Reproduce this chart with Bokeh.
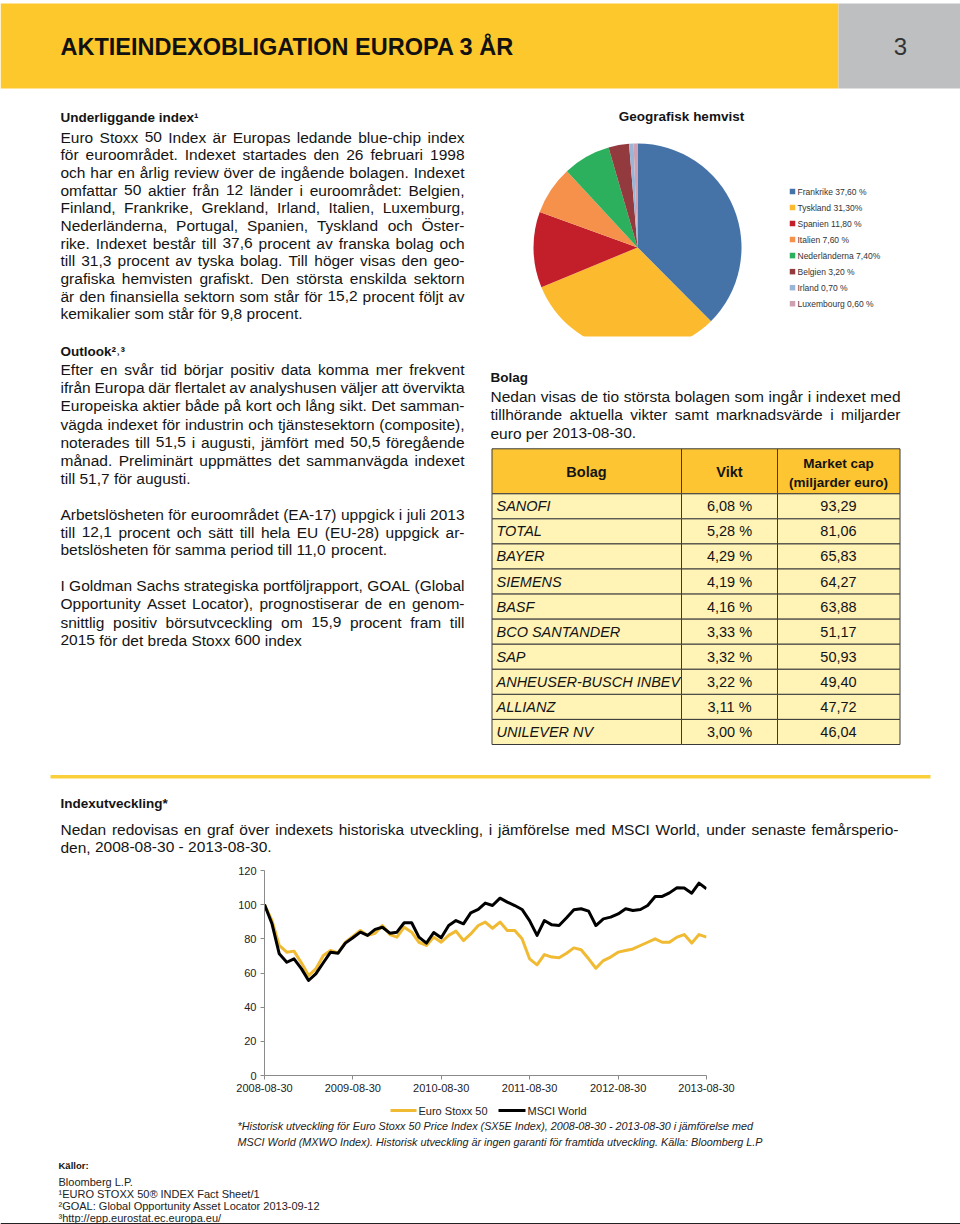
from bokeh.plotting import figure
from bokeh.models import Range1d, FixedTicker, DatetimeTickFormatter
from bokeh.layouts import column
from bokeh.core.properties import value
from bokeh.embed import file_html
from bokeh.resources import INLINE
import numpy as np
import pandas as pd

# ---------------- data ----------------
geo_names = ["Frankrike", "Tyskland", "Spanien", "Italien", "Nederländerna", "Belgien", "Irland", "Luxembourg"]
geo_pct = [37.6, 31.3, 11.8, 7.6, 7.4, 3.2, 0.7, 0.6]
geo_labels = ["Frankrike 37,60 %", "Tyskland 31,30%", "Spanien 11,80 %", "Italien 7,60 %",
              "Nederländerna 7,40%", "Belgien 3,20 %", "Irland 0,70 %", "Luxembourg 0,60 %"]
geo_colors = ["#4573A8", "#FCBB2E", "#C21F2B", "#F5914A", "#2DB05E", "#933A3E", "#9AB5D6", "#CFA0B2"]

companies = ["SANOFI", "TOTAL", "BAYER", "SIEMENS", "BASF", "BCO SANTANDER", "SAP",
             "ANHEUSER-BUSCH INBEV", "ALLIANZ", "UNILEVER NV"]
weights = [6.08, 5.28, 4.29, 4.19, 4.16, 3.33, 3.32, 3.22, 3.11, 3.00]
market_cap = [93.29, 81.06, 65.83, 64.27, 63.88, 51.17, 50.93, 49.40, 47.72, 46.04]

eurostoxx = [100, 90.7, 76.1, 72.2, 72.8, 65.8, 58.5, 62.4, 70.2, 73.2, 71.8, 78.0, 81.4,
             84.9, 82.0, 83.3, 87.8, 82.5, 81.0, 86.8, 83.9, 78.0, 76.1, 81.0, 78.0,
             82.0, 84.5, 79.0, 82.9, 87.8, 89.8, 86.2, 89.8, 84.9, 84.9, 80.0, 68.3,
             64.8, 70.8, 69.3, 68.9, 71.6, 74.7, 73.6, 68.3, 62.8, 67.3, 69.3, 72.2,
             73.2, 74.1, 76.1, 78.0, 80.0, 78.0, 78.0, 81.0, 82.5, 77.5, 82.5, 81.0]
msci_world = [100, 88.8, 71.2, 66.3, 68.3, 62.4, 55.6, 59.5, 66.0, 72.2, 71.6, 77.5, 80.6,
              83.9, 82.0, 85.5, 86.8, 83.3, 83.9, 89.4, 89.4, 81.0, 77.5, 83.7, 80.6,
              87.8, 90.7, 88.8, 95.2, 97.2, 100.9, 99.5, 103.8, 101.5, 99.5, 97.2, 90.7,
              82.0, 90.7, 88.2, 87.8, 92.3, 97.0, 97.6, 96.2, 87.8, 91.7, 92.7, 94.6,
              97.6, 96.6, 97.2, 99.5, 104.8, 104.8, 106.9, 109.9, 109.7, 106.7, 112.6, 109.3]
x_tick_labels = ["2008-08-30", "2009-08-30", "2010-08-30", "2011-08-30", "2012-08-30", "2013-08-30"]
y_ticks = [0, 20, 40, 60, 80, 100, 120]
series_names = ["Euro Stoxx 50", "MSCI World"]
series_colors = ["#F0BA32", "#000000"]

para_index = [
    "Euro Stoxx 50 Index är Europas ledande blue-chip index",
    "för euroområdet. Indexet startades den 26 februari 1998",
    "och har en årlig review över de ingående bolagen. Indexet",
    "omfattar 50 aktier från 12 länder i euroområdet: Belgien,",
    "Finland, Frankrike, Grekland, Irland, Italien, Luxemburg,",
    "Nederländerna, Portugal, Spanien, Tyskland och Öster-",
    "rike. Indexet består till 37,6 procent av franska bolag och",
    "till 31,3 procent av tyska bolag. Till höger visas den geo-",
    "grafiska hemvisten grafiskt.  Den största enskilda sektorn",
    "är den finansiella sektorn som står för 15,2 procent följt av",
    "kemikalier som står för 9,8 procent.",
]
para_outlook1 = [
    "Efter en svår tid börjar positiv data komma mer frekvent",
    "ifrån Europa där flertalet av analyshusen väljer att övervikta",
    "Europeiska aktier både på kort och lång sikt. Det samman-",
    "vägda indexet för industrin och tjänstesektorn (composite),",
    "noterades till 51,5 i augusti, jämfört med 50,5 föregående",
    "månad. Preliminärt uppmättes det sammanvägda indexet",
    "till 51,7 för augusti.",
]
para_outlook2 = [
    "Arbetslösheten för euroområdet (EA-17) uppgick i juli 2013",
    "till 12,1 procent och sätt till hela EU (EU-28) uppgick ar-",
    "betslösheten för samma period till 11,0 procent.",
]
para_outlook3 = [
    "I Goldman Sachs strategiska portföljrapport, GOAL (Global",
    "Opportunity Asset Locator), prognostiserar de en genom-",
    "snittlig positiv börsutvceckling om 15,9 procent fram till",
    "2015 för det breda Stoxx 600 index",
]
para_bolag = [
    "Nedan visas de tio största bolagen som ingår i indexet med",
    "tillhörande aktuella vikter samt marknadsvärde i miljarder",
    "euro per 2013-08-30.",
]
para_utv = [
    "Nedan redovisas en graf över indexets historiska utveckling, i jämförelse med MSCI World, under senaste femårsperio-",
    "den, 2008-08-30 - 2013-08-30.",
]
footnote_lines = [
    "*Historisk utveckling för Euro Stoxx 50 Price Index (SX5E Index), 2008-08-30 - 2013-08-30 i jämförelse med",
    "MSCI World (MXWO Index). Historisk utveckling är ingen garanti för framtida utveckling. Källa: Bloomberg L.P",
]
source_lines = [
    "Bloomberg L.P.",
    "¹EURO STOXX 50® INDEX Fact Sheet/1",
    "²GOAL: Global Opportunity Asset Locator 2013-09-12",
    "³http://epp.eurostat.ec.europa.eu/",
]

# ---------------- helpers ----------------
BODY = "Liberation Sans"
INK = "#141414"

AW = {' ': 278, '!': 278, '"': 355, '%': 889, '&': 667, "'": 191, '(': 333, ')': 333, '*': 389,
      '+': 584, ',': 278, '-': 333, '.': 278, '/': 278, ':': 278, ';': 278, '?': 556,
      'A': 667, 'B': 667, 'C': 722, 'D': 722, 'E': 667, 'F': 611, 'G': 778, 'H': 722, 'I': 278,
      'J': 500, 'K': 667, 'L': 556, 'M': 833, 'N': 722, 'O': 778, 'P': 667, 'Q': 778, 'R': 722,
      'S': 667, 'T': 611, 'U': 722, 'V': 667, 'W': 944, 'X': 667, 'Y': 667, 'Z': 611,
      'a': 556, 'b': 556, 'c': 500, 'd': 556, 'e': 556, 'f': 278, 'g': 556, 'h': 556, 'i': 222,
      'j': 222, 'k': 500, 'l': 222, 'm': 833, 'n': 556, 'o': 556, 'p': 556, 'q': 556, 'r': 333,
      's': 500, 't': 278, 'u': 556, 'v': 500, 'w': 722, 'x': 500, 'y': 500, 'z': 500,
      'å': 556, 'ä': 556, 'ö': 556, 'é': 556, 'Ö': 778, 'Å': 667, 'Ä': 667}


def tw(s, fs):
    return sum(AW.get(c, 556) for c in s) * fs / 1000.0


def justified(lines, x0, x1, y0, dy, fs):
    xs, ys, ts = [], [], []
    for i, line in enumerate(lines):
        words = line.split()
        y = y0 + i * dy
        widths = [tw(w, fs) for w in words]
        if i == len(lines) - 1 or len(words) < 2:
            gap = AW[' '] * fs / 1000.0
        else:
            gap = (x1 - x0 - sum(widths)) / (len(words) - 1)
            gap = max(gap, 0.15 * fs)
        x = x0
        for w, wd in zip(words, widths):
            xs.append(x)
            ys.append(y)
            ts.append(w)
            x += wd + gap
    return xs, ys, ts


def txt(fig, xs, ys, texts, size, style="normal", color=INK, align="left"):
    fig.text(x=xs, y=ys, text=texts, text_font=value(BODY), text_font_size=value(f"{size}px"),
             text_font_style=value(style), text_color=value(color), text_align=value(align),
             text_baseline=value("middle"))


def blank(fig):
    fig.grid.visible = False
    fig.outline_line_color = None
    fig.background_fill_color = "white"
    fig.border_fill_color = "white"
    fig.frame_align = False


# ---------------- top page figure (page pixels 0..858) ----------------
W = 960
TOP_H = 858
top = figure(width=W, height=TOP_H, x_range=Range1d(0, W), y_range=Range1d(TOP_H, 0),
             x_axis_location=None, y_axis_location=None, output_backend="svg",
             toolbar_location=None, min_border=0)
blank(top)

# header band
top.quad(left=[0, 838], right=[838, 960], top=[3, 3], bottom=[88, 88],
         fill_color=["#FDC82B", "#BEBFC1"], line_color=None)
txt(top, [60], [46], ["AKTIEINDEXOBLIGATION EUROPA 3 ÅR"], 23.5, style="bold", color="#111")
txt(top, [900], [46], ["3"], 24, color="#333", align="center")

BODY_FS = 15.5
HEAD_FS = 13.5
LX0, LX1 = 60, 464

txt(top, [LX0], [117], ["Underliggande index¹"], HEAD_FS, style="bold")
xs, ys, ts = justified(para_index, LX0, LX1, 136.7, 17.66, BODY_FS)
txt(top, xs, ys, ts, BODY_FS)

txt(top, [LX0], [351], ["Outlook²˒³"], HEAD_FS, style="bold")
xs, ys, ts = justified(para_outlook1, LX0, LX1, 369, 18.2, BODY_FS)
txt(top, xs, ys, ts, BODY_FS)
xs, ys, ts = justified(para_outlook2, LX0, LX1, 514, 17.7, BODY_FS)
txt(top, xs, ys, ts, BODY_FS)
xs, ys, ts = justified(para_outlook3, LX0, LX1, 585, 18.3, BODY_FS)
txt(top, xs, ys, ts, BODY_FS)

# pie chart
pct = np.array(geo_pct, dtype=float)
cum = np.concatenate([[0.0], np.cumsum(pct / pct.sum())])
start = np.pi / 2 - 2 * np.pi * cum[:-1]
end = np.pi / 2 - 2 * np.pi * cum[1:]
top.wedge(x=637, y=247, radius=104, start_angle=start, end_angle=end, direction="clock",
          fill_color=geo_colors, line_color=None)
top.quad(left=[526], right=[748], top=[336], bottom=[356], fill_color="white", line_color=None)
txt(top, [681], [116], ["Geografisk hemvist"], HEAD_FS, style="bold", align="center")
ly = [191 + 16.03 * i for i in range(len(geo_labels))]
top.scatter(x=[792] * len(geo_labels), y=ly, marker="square", size=5.5,
            fill_color=geo_colors, line_color=None)
txt(top, [797] * len(geo_labels), ly, geo_labels, 8.5, color="#333")

# Bolag section
txt(top, [490], [377], ["Bolag"], HEAD_FS, style="bold")
xs, ys, ts = justified(para_bolag, 490, 900, 396, 18.3, BODY_FS)
txt(top, xs, ys, ts, BODY_FS)

# table
col_x = [491.5, 681, 777, 899.5]
t_top, h_bot, row_h = 448.3, 493.3, 25.07
n = len(companies)
top.quad(left=col_x[:-1], right=col_x[1:], top=[t_top] * 3, bottom=[h_bot] * 3,
         fill_color="#FDC531", line_color="#3a3a3a", line_width=1)
rows_top = [h_bot + row_h * i for i in range(n)]
rows_bot = [h_bot + row_h * (i + 1) for i in range(n)]
for c in range(3):
    top.quad(left=[col_x[c]] * n, right=[col_x[c + 1]] * n, top=rows_top, bottom=rows_bot,
             fill_color="#FFF3B6", line_color="#3a3a3a", line_width=1)
txt(top, [586, 729], [471, 471], ["Bolag", "Vikt"], 14.5, style="bold", align="center")
txt(top, [838, 838], [463, 482], ["Market cap", "(miljarder euro)"], HEAD_FS,
    style="bold", align="center")
row_y = [h_bot + row_h * (i + 0.5) for i in range(n)]
txt(top, [496] * n, row_y, companies, 14.5, style="italic")
txt(top, [729] * n, row_y, [f"{w:.2f}".replace(".", ",") + " %" for w in weights], 14.5, align="center")
txt(top, [838] * n, row_y, [f"{m:.2f}".replace(".", ",") for m in market_cap], 14.5, align="center")

# separator rule
top.quad(left=[50], right=[930], top=[774.5], bottom=[778], fill_color="#F9CF3A", line_color=None)

txt(top, [60], [803], ["Indexutveckling*"], HEAD_FS, style="bold")
xs, ys, ts = justified(para_utv, 60, 898, 829, 17.5, BODY_FS)
txt(top, xs, ys, ts, BODY_FS)

# ---------------- line chart (page pixels 858..1103) ----------------
dates = [pd.Timestamp(x_tick_labels[0]) + pd.DateOffset(months=i) for i in range(len(eurostoxx))]
tick_ms = [pd.Timestamp(s).value / 1e6 for s in x_tick_labels]

chart = figure(width=W, height=245, x_axis_type="datetime",
               x_range=Range1d(dates[0], dates[-1]), y_range=Range1d(0, 120),
               output_backend="svg", toolbar_location=None,
               min_border_left=264, min_border_right=254, min_border_top=12, min_border_bottom=28)
blank(chart)
chart.line(dates, eurostoxx, line_color=series_colors[0], line_width=3, line_join="round")
chart.line(dates, msci_world, line_color=series_colors[1], line_width=3, line_join="round")
chart.xaxis.ticker = FixedTicker(ticks=tick_ms)
fmt = "%Y-%m-%d"
chart.xaxis.formatter = DatetimeTickFormatter(days=fmt, months=fmt, years=fmt)
chart.yaxis.ticker = FixedTicker(ticks=y_ticks)
for ax in (chart.xaxis, chart.yaxis):
    ax.axis_line_color = "#8a8a8a"
    ax.major_tick_line_color = "#8a8a8a"
    ax.minor_tick_line_color = None
    ax.major_tick_out = 4
    ax.major_tick_in = 0
    ax.major_label_text_font = BODY
    ax.major_label_text_font_size = "11px"
    ax.major_label_text_color = "#222"
    ax.major_label_standoff = 4

# ---------------- bottom notes (page pixels 1103..1224) ----------------
B0 = 1103
bottom = figure(width=W, height=1224 - B0, x_range=Range1d(0, W), y_range=Range1d(1224, B0),
                x_axis_location=None, y_axis_location=None, output_backend="svg",
                toolbar_location=None, min_border=0)
blank(bottom)
# legend of the line chart
bottom.segment(x0=[390, 498], x1=[416, 525], y0=[1110, 1110], y1=[1110, 1110],
               line_color=series_colors, line_width=3)
txt(bottom, [418, 527], [1110, 1110], series_names, 11, color="#222")
txt(bottom, [237, 237], [1125, 1141], footnote_lines, 10.8, style="italic", color="#222")
txt(bottom, [58], [1165], ["Källor:"], 9.5, style="bold")
txt(bottom, [58] * 4, [1181, 1193, 1205, 1217], source_lines, 11, color="#222")
bottom.segment(x0=[0], x1=[960], y0=[1223.3], y1=[1223.3], line_color="#222", line_width=1.5)

page = column(top, chart, bottom, spacing=0)
open("out.html", "w").write(file_html(page, INLINE))
